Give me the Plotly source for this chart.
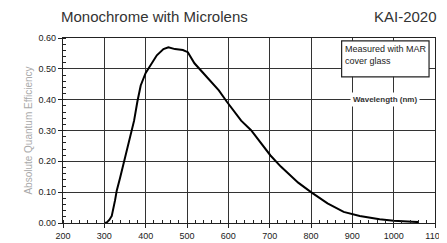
import plotly.graph_objects as go

wavelength_nm = [300, 306, 312, 318, 326, 330, 338, 346, 355, 363, 372, 380, 388, 400, 412, 427, 443,
                 455, 471, 490, 502, 518, 549, 577, 596, 608, 631, 655, 678, 702, 727, 769, 800, 840,
                 879, 918, 966, 1000, 1045, 1060]
qe = [0.0, 0.002, 0.01, 0.023, 0.074, 0.105, 0.146, 0.188, 0.239, 0.281, 0.332, 0.394, 0.446, 0.487,
      0.513, 0.544, 0.564, 0.57, 0.564, 0.561, 0.554, 0.518, 0.472, 0.43, 0.394, 0.374, 0.332, 0.301,
      0.26, 0.219, 0.183, 0.131, 0.1, 0.064, 0.036, 0.023, 0.012, 0.007, 0.004, 0.003]
x_ticks = [200, 300, 400, 500, 600, 700, 800, 900, 1000, 1100]
y_ticks = [0.0, 0.1, 0.2, 0.3, 0.4, 0.5, 0.6]

FONT = "Liberation Sans, Arial, sans-serif"
fig = go.Figure()
fig.add_trace(go.Scatter(x=wavelength_nm, y=qe, mode="lines",
                         line=dict(color="black", width=2),
                         hoverinfo="skip", showlegend=False))

axis_common = dict(showline=True, linecolor="#222", linewidth=1.2, showgrid=True,
                   gridcolor="#333", gridwidth=1.2, zeroline=False, ticks="outside",
                   ticklen=4, tickcolor="#222", tickfont=dict(size=9, color="#222", family=FONT),
                   mirror=True)
fig.update_xaxes(range=[200, 1100], tickvals=x_ticks, ticktext=[str(v) for v in x_ticks],
                 minor=dict(ticks="inside", dtick=20, ticklen=3, tickcolor="#222", showgrid=False),
                 **axis_common)
fig.update_yaxes(range=[0, 0.6], tickvals=y_ticks, ticktext=[f"{v:.2f}" for v in y_ticks],
                 minor=dict(ticks="inside", dtick=0.02, ticklen=3, tickcolor="#222", showgrid=False),
                 title=dict(text="Absolute Quantum Efficiency", font=dict(size=10, color="#aaa", family=FONT),
                            standoff=4),
                 **axis_common)

fig.add_shape(type="rect", xref="paper", yref="paper", x0=0.749, x1=0.984, y0=0.79, y1=0.985,
              line=dict(color="#222", width=1.2), fillcolor="white", layer="above")
fig.add_annotation(xref="paper", yref="paper", x=0.752, y=0.98, xanchor="left", yanchor="top",
                   text="Measured with MAR<br>cover glass", showarrow=False, align="left",
                   font=dict(size=9, color="#222", family=FONT))
fig.add_annotation(xref="paper", yref="y", x=0.865, y=0.4, xanchor="center", yanchor="middle",
                   text="<b>Wavelength (nm)</b>", showarrow=False, bgcolor="white",
                   borderpad=2, font=dict(size=8, color="#333", family=FONT))
fig.add_annotation(xref="paper", yref="paper", x=0.0, y=1.0, yshift=11, xshift=-4, xanchor="left", yanchor="bottom",
                   text="Monochrome with Microlens", showarrow=False,
                   font=dict(size=15, color="#333", family=FONT))
fig.add_annotation(xref="paper", yref="paper", x=1.0, y=1.0, yshift=11, xshift=4, xanchor="right", yanchor="bottom",
                   text="KAI-2020", showarrow=False,
                   font=dict(size=15, color="#333", family=FONT))

fig.update_layout(width=447, height=243, margin=dict(l=55, r=10, t=30, b=19),
                  plot_bgcolor="white", paper_bgcolor="white")
fig.write_html("out.html")
